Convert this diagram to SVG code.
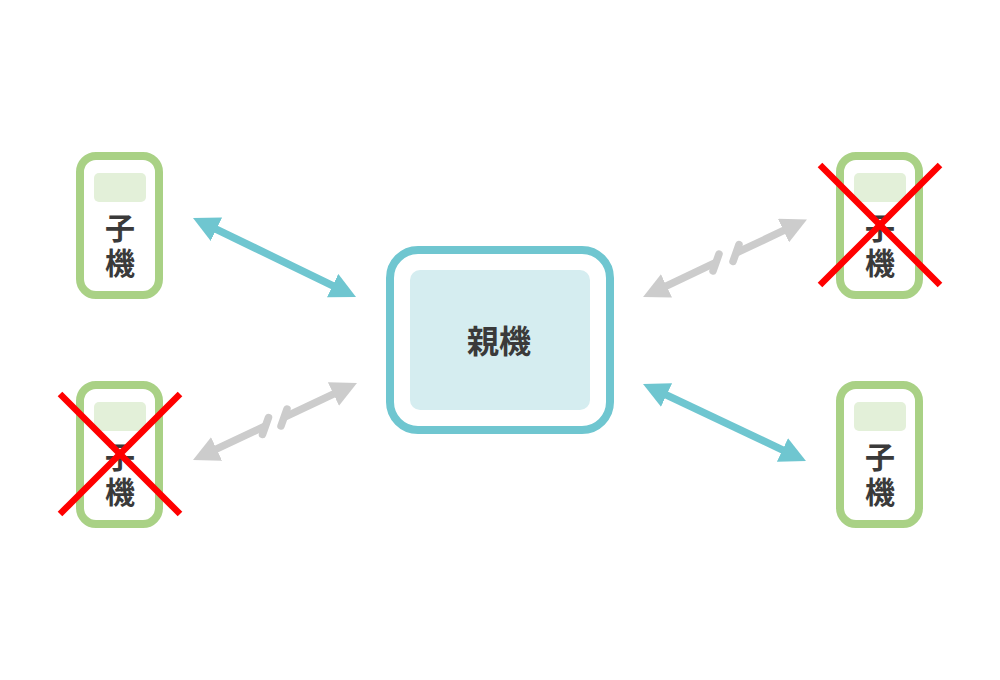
<svg xmlns="http://www.w3.org/2000/svg" width="1000" height="680" viewBox="0 0 1000 680">
<style>
.dev{fill:#ffffff;stroke:#a9d185;stroke-width:8}
.scr{fill:#e3f0d9}
.lbl{font-family:"Noto Sans CJK JP","Noto Sans CJK SC",sans-serif;font-weight:bold;font-size:30px;fill:#3a3a3a;text-anchor:middle}
.plbl{font-family:"Noto Sans CJK JP","Noto Sans CJK SC",sans-serif;font-weight:bold;font-size:32px;fill:#3a3a3a;text-anchor:middle}
.blue{stroke:#6fc6d0;stroke-width:7.5;fill:none}
.gray{stroke:#cccccc;stroke-width:7.5;fill:none}
.bar{stroke:#cccccc;stroke-width:7.5;stroke-linecap:round;fill:none}
.x{stroke:#ff0000;stroke-width:6.5}
</style>
<defs>
<marker id="hb" viewBox="0 0 26 26" markerWidth="26" markerHeight="26" refX="8" refY="13" orient="auto-start-reverse" markerUnits="userSpaceOnUse">
<path d="M0,0 L26,13 L0,26 z" fill="#6fc6d0"/>
</marker>
<marker id="hg" viewBox="0 0 26 26" markerWidth="26" markerHeight="26" refX="8" refY="13" orient="auto-start-reverse" markerUnits="userSpaceOnUse">
<path d="M0,0 L26,13 L0,26 z" fill="#cccccc"/>
</marker>
</defs>
<rect width="1000" height="680" fill="#ffffff"/>
<g id="parent">
<rect x="390" y="250" width="220" height="180" rx="28" fill="#ffffff" stroke="#6fc6d0" stroke-width="8"/>
<rect x="410" y="270" width="180" height="140" rx="10" fill="#d5edf0"/>
<text class="plbl" x="499" y="353">親機</text>
</g>
<g id="child-tl">
<rect class="dev" x="80" y="156" width="79" height="139" rx="16"/>
<rect class="scr" x="94" y="173" width="52" height="29" rx="5"/>
<text class="lbl"><tspan x="120" y="239">子</tspan><tspan x="120" y="274">機</tspan></text>
</g>
<g id="child-bl">
<rect class="dev" x="80" y="385" width="79" height="139" rx="16"/>
<rect class="scr" x="94" y="402" width="52" height="29" rx="5"/>
<text class="lbl"><tspan x="120" y="468">子</tspan><tspan x="120" y="503">機</tspan></text>
<line class="x" x1="60" y1="394" x2="180" y2="514"/>
<line class="x" x1="180" y1="394" x2="60" y2="514"/>
</g>
<g id="child-tr">
<rect class="dev" x="840" y="156" width="79" height="139" rx="16"/>
<rect class="scr" x="854" y="173" width="52" height="29" rx="5"/>
<text class="lbl"><tspan x="880" y="239">子</tspan><tspan x="880" y="274">機</tspan></text>
<line class="x" x1="820" y1="165" x2="940" y2="285"/>
<line class="x" x1="940" y1="165" x2="820" y2="285"/>
</g>
<g id="child-br">
<rect class="dev" x="840" y="385" width="79" height="139" rx="16"/>
<rect class="scr" x="854" y="402" width="52" height="29" rx="5"/>
<text class="lbl"><tspan x="880" y="468">子</tspan><tspan x="880" y="503">機</tspan></text>
</g>
<g id="connectors">
<line class="blue" x1="209.2" y1="225.8" x2="339.8" y2="289.1" marker-start="url(#hb)" marker-end="url(#hb)"/>
<line class="blue" x1="659.3" y1="391.7" x2="789.7" y2="453.3" marker-start="url(#hb)" marker-end="url(#hb)"/>
<line class="gray" x1="209.3" y1="452.3" x2="265.5" y2="426" marker-start="url(#hg)"/>
<line class="gray" x1="284" y1="417.4" x2="340.7" y2="390.7" marker-end="url(#hg)"/>
<line class="bar" x1="268.5" y1="417.5" x2="262.5" y2="434.5"/>
<line class="bar" x1="287" y1="409" x2="281" y2="426"/>
<line class="gray" x1="659.3" y1="289.3" x2="716" y2="262.4" marker-start="url(#hg)"/>
<line class="gray" x1="736" y1="253" x2="790.7" y2="227.2" marker-end="url(#hg)"/>
<line class="bar" x1="719" y1="254" x2="713" y2="271"/>
<line class="bar" x1="739" y1="244.5" x2="733" y2="261.5"/>
</g>
</svg>
